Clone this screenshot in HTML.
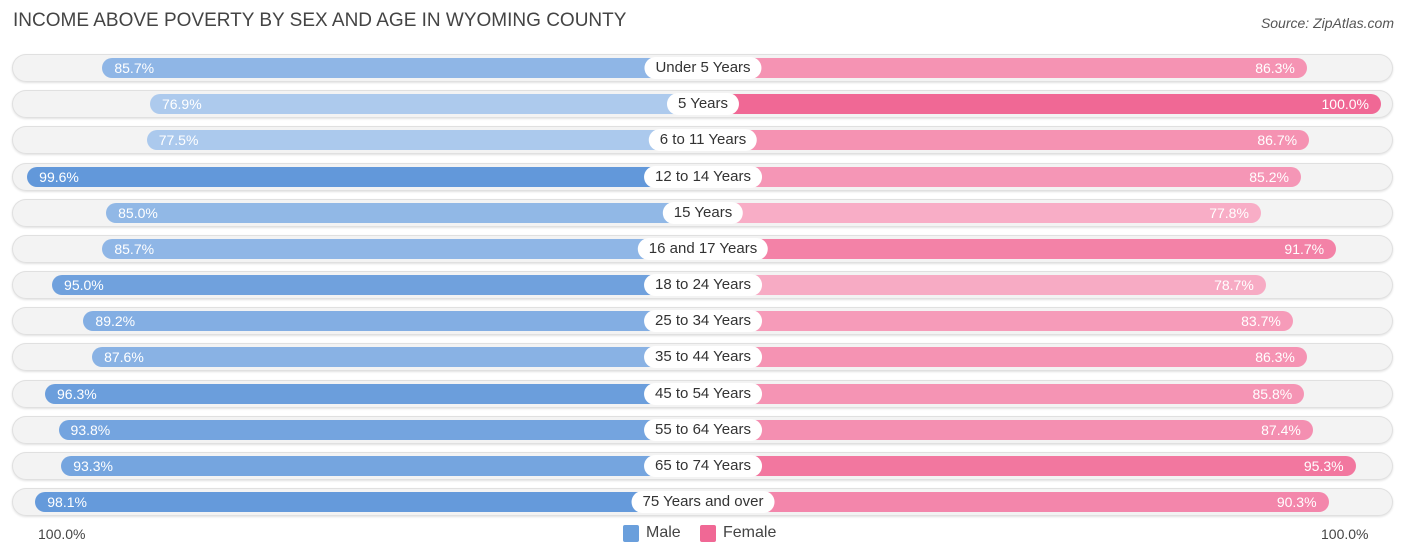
<!DOCTYPE html>
<html><head><meta charset="utf-8"><style>
body{margin:0;background:#fff;font-family:"Liberation Sans",sans-serif;}
#c{position:relative;width:1406px;height:559px;overflow:hidden;}
.t{position:absolute;left:13px;top:10px;font-size:19px;color:#444;}
.s{position:absolute;right:12px;top:15px;font-size:14px;color:#555;font-style:italic;}
.bg{position:absolute;left:12px;width:1381px;height:28px;border-radius:14px;background:#f3f3f3;box-shadow:inset 0 0 0 1px #e0e0e0,0 1px 2px rgba(0,0,0,.12);}
.bar{position:absolute;height:20px;border-radius:10px;}
.v{position:absolute;font-size:14px;color:#fff;line-height:20px;}
.lab{position:absolute;height:22px;line-height:22px;border-radius:11px;background:#fff;font-size:15px;color:#333;padding:0 11px;transform:translateX(-50%);white-space:nowrap;}
.ax{position:absolute;top:526px;font-size:14px;color:#444;}
.lg{position:absolute;top:525px;width:16px;height:17px;border-radius:2px;}
.lt{position:absolute;top:524px;font-size:16px;color:#444;}
</style></head><body>
<div id="c">
<div class="t">INCOME ABOVE POVERTY BY SEX AND AGE IN WYOMING COUNTY</div>
<div class="s">Source: ZipAtlas.com</div>
<div id="rows"></div>
<div class="ax" style="left:38px">100.0%</div>
<div class="ax" style="left:1321px">100.0%</div>
<div class="lg" style="left:623px;background:#6a9fdc"></div>
<div class="lt" style="left:646px">Male</div>
<div class="lg" style="left:700px;background:#f06895"></div>
<div class="lt" style="left:723px">Female</div>
</div>
<script>
const categories=["Under 5 Years","5 Years","6 to 11 Years","12 to 14 Years","15 Years","16 and 17 Years","18 to 24 Years","25 to 34 Years","35 to 44 Years","45 to 54 Years","55 to 64 Years","65 to 74 Years","75 Years and over"];
const male=[85.7,76.9,77.5,99.6,85.0,85.7,95.0,89.2,87.6,96.3,93.8,93.3,98.1];
const female=[86.3,100.0,86.7,85.2,77.8,91.7,78.7,83.7,86.3,85.8,87.4,95.3,90.3];
const CX=703, Y0=68, DY=36.17;
function len(v){return 137+5.41*v;}
function mix(a,b,t){t=Math.max(0,Math.min(1,t));return 'rgb('+a.map((x,i)=>Math.round(x+(b[i]-x)*t)).join(',')+')';}
function mc(v){return mix([176,204,238],[98,152,218],(v-76)/23);}
function fc(v){return mix([248,176,200],[240,104,149],(v-77)/23);}
const R=document.getElementById('rows');
categories.forEach((c,i)=>{
 const y=Y0+i*DY;
 const bg=document.createElement('div');bg.className='bg';bg.style.top=(y-14)+'px';
 
 
 R.appendChild(bg);
 const ml=len(male[i]);
 const mb=document.createElement('div');mb.className='bar';
 mb.style.left=(CX-ml)+'px';mb.style.width=ml+'px';mb.style.top=(y-10)+'px';mb.style.background=mc(male[i]);
 
 
 R.appendChild(mb);
 const mv=document.createElement('div');mv.className='v';mv.textContent=male[i].toFixed(1)+'%';
 mv.style.left=(CX-ml+12)+'px';mv.style.top=(y-10)+'px';
 
 
 R.appendChild(mv);
 const fl=len(female[i]);
 const fb=document.createElement('div');fb.className='bar';
 fb.style.left=CX+'px';fb.style.width=fl+'px';fb.style.top=(y-10)+'px';fb.style.background=fc(female[i]);
 
 
 R.appendChild(fb);
 const fv=document.createElement('div');fv.className='v';fv.textContent=female[i].toFixed(1)+'%';
 fv.style.right=(1406-CX-fl+12)+'px';fv.style.top=(y-10)+'px';
 
 
 R.appendChild(fv);
 const lb=document.createElement('div');lb.className='lab';lb.textContent=c;
 lb.style.left=CX+'px';lb.style.top=(y-11)+'px';
 
 
 R.appendChild(lb);
});
</script>
</body></html>
